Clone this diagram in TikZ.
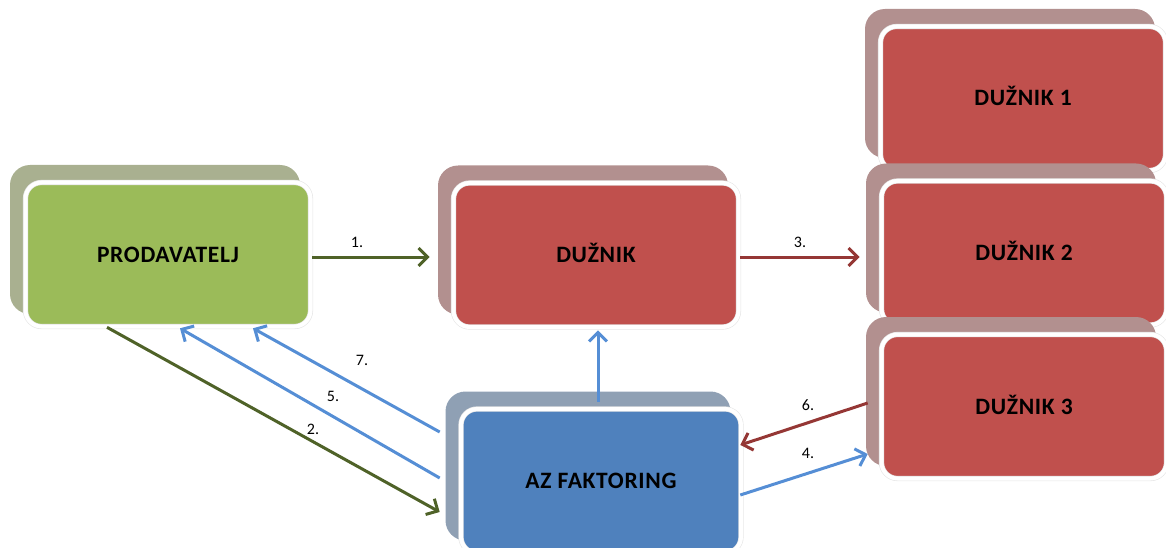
\documentclass[tikz,border=0pt]{standalone}
\usepackage{fontspec}
\setmainfont{Carlito}
\newfontfamily\boxfont[LetterSpace=3]{Carlito}
\usetikzlibrary{arrows.meta,calc}
\definecolor{gfill}{HTML}{9BBB59}
\definecolor{gshad}{HTML}{A9B090}
\definecolor{rfill}{HTML}{C0504D}
\definecolor{rshad}{HTML}{B2908F}
\definecolor{bfill}{HTML}{4F81BD}
\definecolor{bshad}{HTML}{8FA0B4}
\definecolor{garr}{HTML}{4F6228}
\definecolor{rarr}{HTML}{953735}
\definecolor{barr}{HTML}{558ED5}
\begin{document}
\begin{tikzpicture}[x=1pt,y=-1pt,
  shadowbox/.style={rectangle, rounded corners=20pt, minimum width=290pt, minimum height=149pt, inner sep=0pt, draw=none},
  mainbox/.style={rectangle, rounded corners=16pt, minimum width=285pt, minimum height=144pt, inner sep=0pt,
    draw=black!10, double=white, double distance=4pt, line width=0.6pt,
    font=\boxfont\bfseries\fontsize{23.5}{28}\selectfont, text height=15pt, text depth=0pt},
  conn/.style={line width=3pt, -{Straight Barb[length=9pt,width=18pt]}},
  lbl/.style={font=\fontsize{16}{19}\selectfont, inner sep=0pt}
]
\useasboundingbox (0,0) rectangle (1166,548);

% boxes
\node[shadowbox, fill=gshad] (sP) at (155,239.5) {};
\node[mainbox, fill=gfill] (P) at (168,254.5) {PRODAVATELJ};

\node[shadowbox, fill=rshad] (sD) at (583,240) {};
\node[mainbox, fill=rfill] (D) at (596,255) {DUŽNIK};

\node[shadowbox, fill=rshad] (sD1) at (1010,83.5) {};
\node[mainbox, fill=rfill] (D1) at (1023,98.5) {DUŽNIK 1};

\node[shadowbox, fill=rshad] (sD2) at (1011,238) {};
\node[mainbox, fill=rfill] (D2) at (1024,253) {DUŽNIK 2};

\node[shadowbox, fill=rshad] (sD3) at (1011,391.5) {};
\node[mainbox, fill=rfill] (D3) at (1024,406.5) {DUŽNIK 3};

\node[shadowbox, fill=bshad, minimum width=285pt] (sA) at (588,466) {};
\node[mainbox, fill=bfill, minimum width=280pt] (A) at (601,481) {AZ FAKTORING};

% connectors
\draw[conn, garr] ($(P.east)+(1.5,2.5)$) -- ($(D.west)+(-23.5,2)$);
\draw[conn, rarr] ($(D.east)+(1.5,2)$) -- ($(D2.west)+(-21.5,4)$);
\draw[conn, barr] ($(A.north)+(-3,-7)$) -- ($(D.south)+(2,3)$);
\draw[conn, garr] ($(P.south)+(-61,0.5)$) -- ($(A.west)+(-21,31)$);
\draw[conn, barr] ($(A.west)+(-21,-3)$) -- ($(P.south)+(12,1.5)$);
\draw[conn, barr] ($(A.west)+(-21,-49)$) -- ($(P.south)+(85,1.5)$);
\draw[conn, rarr] ($(D3.west)+(-13.5,-3.5)$) -- ($(A.east)+(-1,-36)$);
\draw[conn, barr] ($(A.east)+(-1,14)$) -- ($(D3.west)+(-13.5,47.5)$);

% labels
\node[lbl] (l1) at (357,242) {1.};
\node[lbl] (l3) at (800,242) {3.};
\node[lbl] (l7) at (362,360) {7.};
\node[lbl] (l5) at (333,396) {5.};
\node[lbl] (l2) at (313,429) {2.};
\node[lbl] (l6) at (808,405) {6.};
\node[lbl] (l4) at (808,453) {4.};
\end{tikzpicture}
\end{document}
